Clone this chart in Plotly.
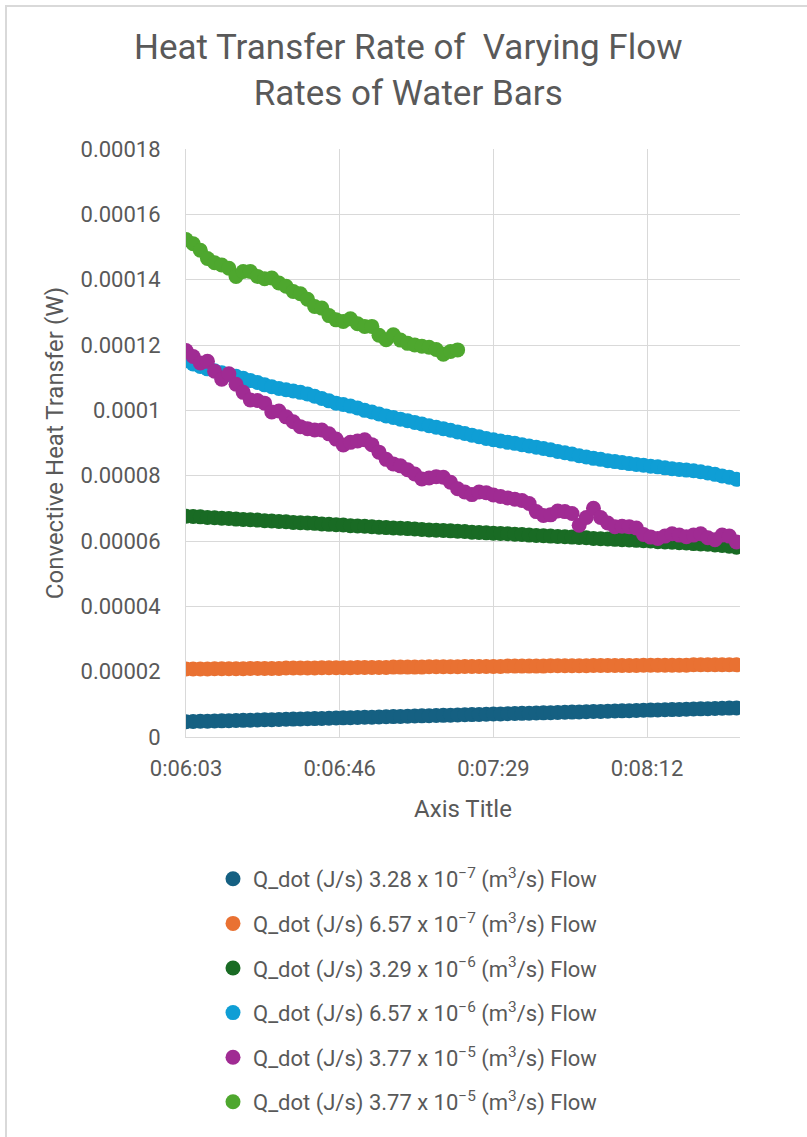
import plotly.graph_objects as go
import numpy as np

# Elapsed seconds after the first sample (0:06:03), sampled every 2 s
start_s = 363
elapsed_s = list(range(0, 155, 2))

# Convective heat transfer readings for each flow rate
q_328e7_e6 = [4.70, 4.75, 4.80, 4.85, 4.90, 4.95, 5.00, 5.05, 5.10, 5.15,
              5.20, 5.26, 5.31, 5.37, 5.42, 5.48, 5.53, 5.59, 5.64, 5.70,
              5.75, 5.81, 5.86, 5.92, 5.97, 6.03, 6.08, 6.14, 6.19, 6.25,
              6.30, 6.36, 6.41, 6.47, 6.52, 6.58, 6.63, 6.69, 6.74, 6.80,
              6.85, 6.91, 6.96, 7.02, 7.07, 7.13, 7.18, 7.24, 7.29, 7.35,
              7.40, 7.46, 7.51, 7.57, 7.62, 7.68, 7.73, 7.79, 7.84, 7.90,
              7.95, 8.01, 8.06, 8.12, 8.17, 8.23, 8.28, 8.34, 8.39, 8.45,
              8.50, 8.56, 8.61, 8.67, 8.72, 8.78, 8.84, 8.90]
q_657e7_e5 = [2.08, 2.08, 2.08, 2.08, 2.09, 2.09, 2.09, 2.09, 2.09, 2.10,
              2.10, 2.10, 2.10, 2.10, 2.11, 2.11, 2.11, 2.11, 2.11, 2.12,
              2.12, 2.12, 2.12, 2.12, 2.13, 2.13, 2.13, 2.13, 2.13, 2.14,
              2.14, 2.14, 2.14, 2.14, 2.15, 2.15, 2.15, 2.15, 2.15, 2.16,
              2.16, 2.16, 2.16, 2.16, 2.16, 2.17, 2.17, 2.17, 2.17, 2.17,
              2.17, 2.18, 2.18, 2.18, 2.18, 2.18, 2.18, 2.19, 2.19, 2.19,
              2.19, 2.19, 2.19, 2.19, 2.20, 2.20, 2.20, 2.20, 2.20, 2.20,
              2.20, 2.21, 2.21, 2.21, 2.21, 2.21, 2.21, 2.21]
q_329e6_e5 = [6.76, 6.75, 6.74, 6.72, 6.71, 6.70, 6.69, 6.67, 6.66, 6.65,
              6.64, 6.62, 6.61, 6.60, 6.59, 6.57, 6.56, 6.55, 6.54, 6.52,
              6.51, 6.50, 6.49, 6.47, 6.46, 6.45, 6.44, 6.42, 6.41, 6.40,
              6.39, 6.38, 6.37, 6.35, 6.34, 6.33, 6.32, 6.31, 6.30, 6.29,
              6.27, 6.26, 6.25, 6.24, 6.23, 6.22, 6.21, 6.20, 6.18, 6.17,
              6.16, 6.15, 6.14, 6.13, 6.12, 6.11, 6.10, 6.08, 6.07, 6.06,
              6.05, 6.04, 6.03, 6.02, 6.01, 6.00, 5.98, 5.97, 5.96, 5.95,
              5.94, 5.92, 5.91, 5.90, 5.88, 5.86, 5.84, 5.81]
q_657e6_e4 = [1.152, 1.142, 1.134, 1.127, 1.121, 1.115, 1.110, 1.104, 1.098, 1.091,
              1.085, 1.078, 1.072, 1.067, 1.063, 1.059, 1.055, 1.050, 1.043, 1.036,
              1.029, 1.022, 1.018, 1.013, 1.007, 1.000, 0.995, 0.989, 0.983, 0.978,
              0.973, 0.968, 0.963, 0.958, 0.953, 0.948, 0.944, 0.939, 0.934, 0.929,
              0.924, 0.919, 0.914, 0.910, 0.906, 0.902, 0.899, 0.895, 0.891, 0.887,
              0.883, 0.879, 0.874, 0.870, 0.866, 0.861, 0.857, 0.853, 0.850, 0.846,
              0.843, 0.840, 0.837, 0.834, 0.832, 0.829, 0.827, 0.824, 0.821, 0.819,
              0.817, 0.815, 0.812, 0.808, 0.804, 0.799, 0.795, 0.789]
q_377e5_a_e4 = [1.183, 1.165, 1.145, 1.150, 1.120, 1.095, 1.112, 1.080, 1.055, 1.032,
                1.030, 1.022, 0.995, 0.998, 0.980, 0.965, 0.950, 0.944, 0.940, 0.940,
                0.928, 0.912, 0.894, 0.902, 0.906, 0.910, 0.895, 0.872, 0.850, 0.836,
                0.830, 0.818, 0.805, 0.790, 0.793, 0.797, 0.795, 0.780, 0.760, 0.750,
                0.742, 0.750, 0.748, 0.741, 0.736, 0.732, 0.728, 0.724, 0.715, 0.690,
                0.678, 0.680, 0.692, 0.690, 0.684, 0.648, 0.672, 0.700, 0.672, 0.655,
                0.644, 0.645, 0.644, 0.640, 0.620, 0.612, 0.608, 0.615, 0.622, 0.618,
                0.613, 0.618, 0.622, 0.610, 0.604, 0.618, 0.615, 0.597]
q_377e5_b_e4 = [1.523, 1.510, 1.490, 1.465, 1.452, 1.445, 1.435, 1.410, 1.425, 1.425,
                1.410, 1.403, 1.405, 1.390, 1.380, 1.364, 1.357, 1.340, 1.318, 1.313,
                1.290, 1.277, 1.272, 1.280, 1.265, 1.257, 1.257, 1.230, 1.216, 1.231,
                1.215, 1.205, 1.200, 1.196, 1.193, 1.186, 1.172, 1.180, 1.185]

tick_seconds = [363, 406, 449, 492]
tick_labels = ["0:06:03", "0:06:46", "0:07:29", "0:08:12"]
y_ticks = [0, 0.00002, 0.00004, 0.00006, 0.00008, 0.0001, 0.00012, 0.00014, 0.00016, 0.00018]
y_tick_labels = ["0", "0.00002", "0.00004", "0.00006", "0.00008", "0.0001",
                 "0.00012", "0.00014", "0.00016", "0.00018"]

series = [
    ("Q_dot (J/s) 3.28 x 10<sup>−7</sup> (m<sup>3</sup>/s) Flow", np.array(q_328e7_e6) * 1e-6, "#156082"),
    ("Q_dot (J/s) 6.57 x 10<sup>−7</sup> (m<sup>3</sup>/s) Flow", np.array(q_657e7_e5) * 1e-5, "#E97132"),
    ("Q_dot (J/s) 3.29 x 10<sup>−6</sup> (m<sup>3</sup>/s) Flow", np.array(q_329e6_e5) * 1e-5, "#196B24"),
    ("Q_dot (J/s) 6.57 x 10<sup>−6</sup> (m<sup>3</sup>/s) Flow", np.array(q_657e6_e4) * 1e-4, "#0F9ED5"),
    ("Q_dot (J/s) 3.77 x 10<sup>−5</sup> (m<sup>3</sup>/s) Flow", np.array(q_377e5_a_e4) * 1e-4, "#A02B93"),
    ("Q_dot (J/s) 3.77 x 10<sup>−5</sup> (m<sup>3</sup>/s) Flow", np.array(q_377e5_b_e4) * 1e-4, "#4EA72E"),
]

FONT = "Roboto"
GREY = "#595959"
GRID = "#D9D9D9"

fig = go.Figure()
for i, (name, values, color) in enumerate(series):
    x = [start_s + t for t in elapsed_s[:len(values)]]
    fig.add_trace(go.Scatter(
        x=x, y=values, mode="markers", name=name, legendgroup=f"g{i}",
        marker=dict(size=15, color=color, line=dict(width=0)),
    ))

# plot area in pixels: left 186, right 740, top 149, bottom 737
L, R, T, B = 186, 740, 149, 737
W, H = 807, 1137
pw, ph = R - L, B - T

def px_x(p):
    return (p - L) / pw

def px_y(p):
    return (B - p) / ph

fig.update_layout(
    width=W, height=H, autosize=False,
    margin=dict(l=L, r=W - R, t=T, b=H - B, pad=0),
    paper_bgcolor="white", plot_bgcolor="white",
    font=dict(family=FONT, color=GREY, size=22),
    xaxis=dict(
        range=[start_s, start_s + 155],
        tickvals=tick_seconds, ticktext=tick_labels,
        showgrid=True, gridcolor=GRID, gridwidth=1,
        showline=True, linecolor=GRID, linewidth=1,
        ticks="", ticklabelstandoff=12, zeroline=False,
        tickfont=dict(size=22, color=GREY),
        title=dict(text="Axis Title", font=dict(size=24, color=GREY), standoff=19),
    ),
    yaxis=dict(
        range=[0, 0.00018],
        tickvals=y_ticks, ticktext=y_tick_labels,
        showgrid=True, gridcolor=GRID, gridwidth=1,
        showline=True, linecolor=GRID, linewidth=1,
        ticks="", ticklabelstandoff=20, zeroline=False,
        tickfont=dict(size=22, color=GREY),
        title=dict(text="Convective Heat Transfer (W)", font=dict(size=24, color=GREY), standoff=10),
    ),
    legend=dict(
        x=px_x(213), xanchor="left", y=px_y(858), yanchor="top",
        orientation="v", tracegroupgap=13,
        font=dict(family=FONT, size=22, color=GREY),
        bgcolor="rgba(0,0,0,0)",
    ),
    annotations=[dict(
        text="Heat Transfer Rate of\u00a0 Varying Flow<br>Rates of Water Bars",
        xref="paper", yref="paper", x=px_x(408), y=px_y(70.5),
        xanchor="center", yanchor="middle", showarrow=False,
        font=dict(family=FONT, size=35, color=GREY),
    )],
    shapes=[dict(
        type="rect", xref="paper", yref="paper",
        x0=px_x(6), x1=px_x(W + 10), y0=px_y(H + 10), y1=px_y(6),
        line=dict(color=GRID, width=2), fillcolor="rgba(0,0,0,0)", layer="below",
    )],
)

fig.write_html("out.html")
